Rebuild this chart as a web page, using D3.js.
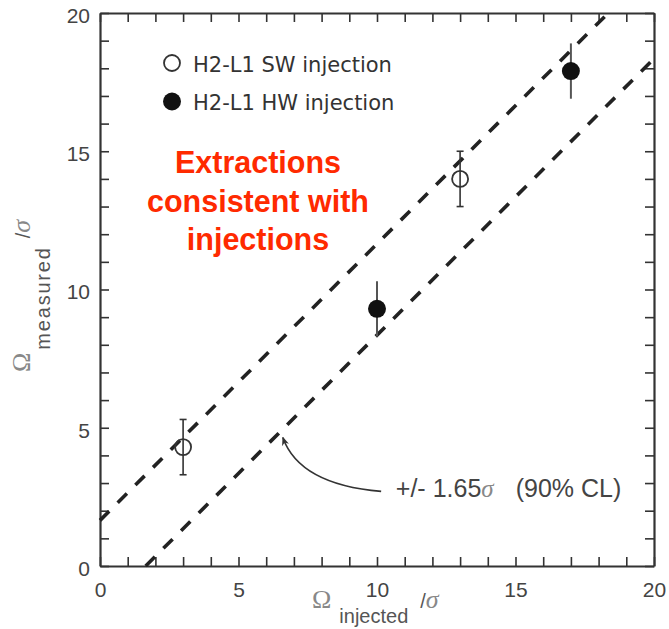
<!DOCTYPE html>
<html>
<head>
<meta charset="utf-8">
<script src="https://cdn.jsdelivr.net/npm/d3@7/dist/d3.min.js"></script>
<style>
  html, body { margin: 0; padding: 0; background: #fff; }
  svg { display: block; }
</style>
</head>
<body>
<script>
// Software (open) and hardware (filled) injections: injected vs recovered, in units of sigma
const swInjected = [3, 13];
const swMeasured = [4.3, 14.0];
const swError = [1.0, 1.0];

const hwInjected = [10, 17];
const hwMeasured = [9.3, 17.9];
const hwError = [1.0, 1.0];

// Half-width of the confidence band around measured = injected
const bandHalfWidth = [1.65];

const xTicks = d3.range(0, 21, 1);
const yTicks = d3.range(0, 21, 1);
const majorTicks = [0, 5, 10, 15, 20];

const legendLabels = ["H2-L1 SW injection", "H2-L1 HW injection"];
const noteLines = ["Extractions", "consistent with", "injections"];

const W = 669, H = 629;
const margin = { left: 100, right: 15, top: 13, bottom: 63 };

const svg = d3.select("body").append("svg")
  .attr("width", W).attr("height", H);

const x = d3.scaleLinear().domain([0, 20]).range([margin.left, W - margin.right]);
const y = d3.scaleLinear().domain([0, 20]).range([H - margin.bottom, margin.top]);

const axisColor = "#333";
const labelColor = "#444";
const fmt = d => majorTicks.includes(d) ? d : "";

// Axes with inward ticks on all four sides
const gx = svg.append("g").attr("transform", `translate(0,${y(0)})`)
  .call(d3.axisBottom(x).tickValues(xTicks).tickSize(-9).tickSizeOuter(0).tickPadding(16).tickFormat(fmt));
const gy = svg.append("g").attr("transform", `translate(${x(0)},0)`)
  .call(d3.axisLeft(y).tickValues(yTicks).tickSize(-9).tickSizeOuter(0).tickPadding(10).tickFormat(fmt));
const gt = svg.append("g").attr("transform", `translate(0,${y(20)})`)
  .call(d3.axisTop(x).tickValues(xTicks).tickSize(-9).tickSizeOuter(0).tickFormat(""));
const gr = svg.append("g").attr("transform", `translate(${x(20)},0)`)
  .call(d3.axisRight(y).tickValues(yTicks).tickSize(-9).tickSizeOuter(0).tickFormat(""));

[gx, gy, gt, gr].forEach(g => {
  g.select(".domain").attr("stroke", axisColor).attr("stroke-width", 2.2);
  g.selectAll(".tick line").attr("stroke", axisColor).attr("stroke-width", 1.6);
  g.selectAll(".tick text")
    .attr("fill", labelColor)
    .style("font-family", "'Liberation Sans', Arial, Helvetica, sans-serif")
    .style("font-size", "21px");
});
gy.selectAll(".tick text").attr("dy", "0.45em");

// Confidence band edges: measured = injected +/- half-width, clipped to the frame
const b = bandHalfWidth[0];
const bandLines = [
  [[0, b], [20 - b, 20]],
  [[b, 0], [20, 20 - b]]
];
const line = d3.line().x(d => x(d[0])).y(d => y(d[1]));
svg.append("g").selectAll("path").data(bandLines).join("path")
  .attr("d", line)
  .attr("fill", "none")
  .attr("stroke", "#222")
  .attr("stroke-width", 3.6)
  .attr("stroke-dasharray", "13,12");

// Annotation arrow pointing at the lower band edge
svg.append("defs").append("marker")
  .attr("id", "arrowhead")
  .attr("viewBox", "0 0 10 10")
  .attr("refX", 9).attr("refY", 5)
  .attr("markerWidth", 9).attr("markerHeight", 9)
  .attr("markerUnits", "userSpaceOnUse")
  .attr("orient", "auto")
  .append("path")
  .attr("d", "M0,1 L10,5 L0,9 L3,5 Z")
  .attr("fill", "#333");

const arrowFrom = [10.15, 2.7], arrowCtrl = [7.2, 2.95], arrowTo = [6.6, 4.65];
svg.append("path")
  .attr("d", `M${x(arrowFrom[0])},${y(arrowFrom[1])} Q${x(arrowCtrl[0])},${y(arrowCtrl[1])} ${x(arrowTo[0])},${y(arrowTo[1])}`)
  .attr("fill", "none")
  .attr("stroke", "#333")
  .attr("stroke-width", 1.6)
  .attr("marker-end", "url(#arrowhead)");

const note = svg.append("text")
  .attr("x", x(10.68)).attr("y", y(2.48))
  .attr("fill", labelColor)
  .style("font-family", "'Liberation Sans', Arial, Helvetica, sans-serif")
  .style("font-size", "25px");
note.append("tspan").text(`+/- ${b}`);
note.append("tspan").text("σ")
  .style("font-family", "'Liberation Serif', 'DejaVu Serif', serif")
  .style("font-style", "italic").attr("fill", "#888");
note.append("tspan").attr("dx", 22).text("(90% CL)");

// Error bars
const errGroup = svg.append("g");
const sw = swInjected.map((v, i) => ({ x: v, y: swMeasured[i], e: swError[i] }));
const hw = hwInjected.map((v, i) => ({ x: v, y: hwMeasured[i], e: hwError[i] }));

errGroup.selectAll("line.sw").data(sw).join("line")
  .attr("x1", d => x(d.x)).attr("x2", d => x(d.x))
  .attr("y1", d => y(d.y - d.e)).attr("y2", d => y(d.y + d.e))
  .attr("stroke", "#333").attr("stroke-width", 1.6);
["lo", "hi"].forEach(k => {
  errGroup.selectAll(`line.cap-${k}`).data(sw).join("line")
    .attr("x1", d => x(d.x) - 3.5).attr("x2", d => x(d.x) + 3.5)
    .attr("y1", d => y(k === "lo" ? d.y - d.e : d.y + d.e))
    .attr("y2", d => y(k === "lo" ? d.y - d.e : d.y + d.e))
    .attr("stroke", "#333").attr("stroke-width", 1.6);
});
errGroup.selectAll("line.hw").data(hw).join("line")
  .attr("x1", d => x(d.x)).attr("x2", d => x(d.x))
  .attr("y1", d => y(d.y - d.e)).attr("y2", d => y(d.y + d.e))
  .attr("stroke", "#555").attr("stroke-width", 2);

// Markers
svg.append("g").selectAll("circle").data(sw).join("circle")
  .attr("cx", d => x(d.x)).attr("cy", d => y(d.y)).attr("r", 8)
  .attr("fill", "none").attr("stroke", "#333").attr("stroke-width", 1.8);
svg.append("g").selectAll("circle").data(hw).join("circle")
  .attr("cx", d => x(d.x)).attr("cy", d => y(d.y)).attr("r", 9)
  .attr("fill", "#111");

// Legend
const legend = svg.append("g");
legendLabels.forEach((t, i) => {
  const cy = 63 + i * 38.5;
  legend.append("circle")
    .attr("cx", 172).attr("cy", cy).attr("r", i === 0 ? 8 : 9)
    .attr("fill", i === 0 ? "#fff" : "#111")
    .attr("stroke", i === 0 ? "#333" : "none")
    .attr("stroke-width", 1.8);
  legend.append("text")
    .attr("x", 193).attr("y", cy + 8.5)
    .attr("fill", "#333")
    .style("font-family", "'DejaVu Sans', 'Open Sans', sans-serif")
    .style("font-size", "21px")
    .text(t);
});

// Red note
svg.append("g").selectAll("text").data(noteLines).join("text")
  .attr("x", 258).attr("y", (d, i) => 173 + i * 38.5)
  .attr("text-anchor", "middle")
  .attr("fill", "#ff2a00")
  .style("font-family", "'Liberation Sans', Arial, Helvetica, sans-serif")
  .style("font-weight", "bold")
  .style("font-size", "30.5px")
  .text(d => d);

// Axis titles
const omegaStyle = sel => sel
  .style("font-family", "'Liberation Serif', 'DejaVu Serif', serif")
  .style("font-size", "26px")
  .attr("fill", "#888");

const xt = svg.append("text")
  .attr("x", 312).attr("y", 608)
  .attr("fill", "#555")
  .style("font-family", "'Liberation Sans', Arial, Helvetica, sans-serif")
  .style("font-size", "20px");
xt.append("tspan").text("Ω").call(omegaStyle);
xt.append("tspan").attr("dx", 8).attr("dy", 15).text("injected");
xt.append("tspan").attr("dx", 12).attr("dy", -15).text("/");
xt.append("tspan").text("σ").call(omegaStyle).style("font-style", "italic");

const yt = svg.append("text")
  .attr("transform", "translate(30,372) rotate(-90)")
  .attr("fill", "#555")
  .style("font-family", "'Liberation Sans', Arial, Helvetica, sans-serif")
  .style("font-size", "20px");
yt.append("tspan").text("Ω").call(omegaStyle);
yt.append("tspan").attr("dx", 3).attr("dy", 20).style("letter-spacing", "1.8px").text("measured");
yt.append("tspan").attr("dx", 8).attr("dy", -20).text("/");
yt.append("tspan").text("σ").call(omegaStyle).style("font-style", "italic");
</script>
</body>
</html>
